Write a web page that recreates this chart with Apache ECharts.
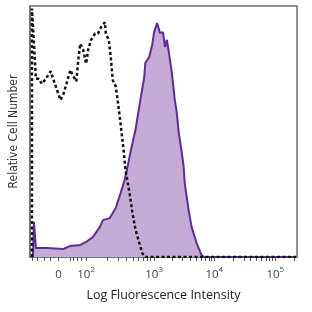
<!DOCTYPE html>
<html>
<head>
<meta charset="UTF-8">
<title>Histogram</title>
<script src="https://cdn.jsdelivr.net/npm/echarts@6/dist/echarts.min.js"></script>
<style>
  html, body { margin: 0; padding: 0; background: #fff; }
  #chart { width: 312px; height: 312px; }
</style>
</head>
<body>
<div id="chart"></div>
<script>
// channel positions (0..271) across the log fluorescence axis
const channelCount = 272;

// tick labels and where they sit on the channel axis
const tickLabelChannels = [29, 57, 126, 187, 249];
const tickBase = ['0', '10', '10', '10', '10'];
const tickExp = ['', '2', '3', '4', '5'];
const tickChannels = [2, 7, 14, 21, 29, 41, 44, 48, 52, 57, 78, 90, 98, 105, 110, 115, 119, 122, 126,
  144, 155, 163, 169, 174, 178, 182, 184, 187, 206, 217, 224, 230, 235, 240, 243, 246, 249, 268];

// isotype control (dashed) - [channel, relative count]
const isotype = [
  [2, 0], [2, 99], [6, 71], [9, 71], [12, 69], [16, 71], [21, 74], [24, 70.5], [27, 67], [31, 62.5],
  [34, 65], [37, 69], [41, 74.5], [44, 72], [47, 70], [49, 78.5], [51, 85], [54, 82.5], [57, 77],
  [59, 82.5], [62, 86.5], [66, 89], [69, 89], [72, 91.5], [76, 93.5], [77, 89], [80, 86.5], [82, 79.5],
  [84, 70.5], [87, 68], [89, 62.5], [91, 56], [93, 49.5], [95, 42.5], [97, 34.5], [101, 25.5],
  [104, 17.5], [107, 11], [111, 5.5], [114, 1.5], [117, 0], [270, 0]
];

// stained sample (filled purple)
const stained = [
  [3, 0], [4, 14], [6, 3.6], [17, 3.6], [34, 3.2], [41, 4.4], [51, 4.8], [57, 6], [64, 8], [71, 12],
  [74, 14.7], [81, 15.5], [87, 19.5], [92, 25.5], [96, 30.7], [99, 35.9], [102, 41.8], [107, 50.6],
  [112, 62.5], [116, 71.7], [117, 77.3], [121, 79.7], [124, 84.5], [126, 89.6], [129, 93.2],
  [131, 93.6], [132, 89.2], [135, 89.6], [137, 83.7], [139, 86.5], [141, 81.3], [144, 73.3],
  [147, 62.5], [149, 57.4], [151, 49.4], [154, 41.8], [156, 35.9], [157, 29.5], [161, 18.7],
  [164, 12], [169, 5.6], [174, 0.8], [177, 0], [270, 0]
];

const channels = [];
for (let i = 0; i < channelCount; i++) channels.push(String(i));

const chart = echarts.init(document.getElementById('chart'));
chart.setOption({
  animation: false,
  grid: { left: 26, top: 6, width: 271, height: 251, show: true, borderColor: '#6e6e6e', borderWidth: 1.5 },
  xAxis: {
    type: 'category',
    data: channels,
    boundaryGap: false,
    name: 'Log Fluorescence Intensity',
    nameLocation: 'middle',
    nameGap: 32,
    nameTextStyle: { fontFamily: 'Open Sans', fontSize: 12.5, color: '#222' },
    axisLine: { lineStyle: { color: '#6e6e6e', width: 1.5 } },
    axisTick: {
      interval: (i) => tickChannels.indexOf(i) >= 0,
      length: 4,
      lineStyle: { color: '#555', width: 1 }
    },
    axisLabel: {
      interval: (i) => tickLabelChannels.indexOf(i) >= 0,
      formatter: (v, i) => {
        const k = tickLabelChannels.indexOf(i);
        if (k < 0) return '';
        return tickExp[k] ? '{b|' + tickBase[k] + '}{s|' + tickExp[k] + '}' : '{b|' + tickBase[k] + '}';
      },
      margin: 7,
      rich: {
        b: { fontFamily: 'Open Sans', fontSize: 11.5, color: '#444', padding: [5, 0, 0, 0] },
        s: { fontFamily: 'Open Sans', fontSize: 8, color: '#444', padding: [0, 0, 5, 0] }
      }
    },
    splitLine: { show: false }
  },
  yAxis: {
    type: 'value',
    min: 0,
    max: 100,
    name: 'Relative Cell Number',
    nameLocation: 'middle',
    nameGap: 10,
    nameTextStyle: { fontFamily: "'DejaVu Sans Condensed', sans-serif", fontSize: 12, color: '#333' },
    axisLine: { show: true, lineStyle: { color: '#6e6e6e', width: 1.5 } },
    axisTick: { show: false },
    axisLabel: { show: false },
    splitLine: { show: false }
  },
  series: [
    {
      type: 'line',
      data: stained,
      symbol: 'none',
      lineStyle: { color: '#5b2e93', width: 2 },
      areaStyle: { color: '#c7abd7', opacity: 1 },
      z: 2
    },
    {
      type: 'line',
      data: isotype,
      symbol: 'none',
      lineStyle: { color: '#111', width: 2.5, type: [3, 2.5] },
      z: 3
    }
  ]
});
</script>
</body>
</html>
